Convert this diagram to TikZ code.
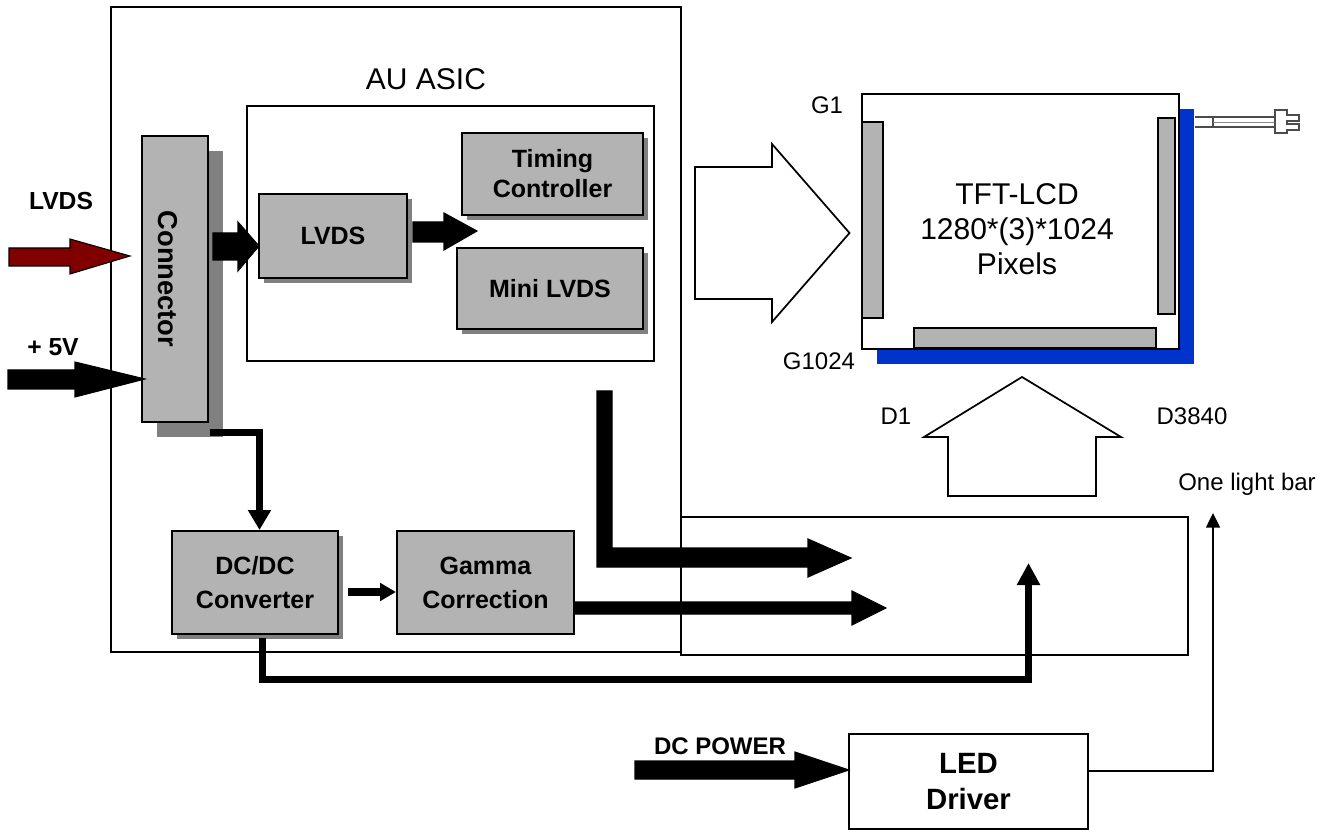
\documentclass[tikz,border=0pt]{standalone}
\usepackage{fontspec}
\setmainfont{Liberation Sans}
\usetikzlibrary{arrows.meta,shadows}
\definecolor{boxgray}{RGB}{179,179,179}
\definecolor{shadowgray}{RGB}{128,128,128}
\definecolor{lcdblue}{RGB}{0,51,204}
\definecolor{darkred}{RGB}{128,0,0}
\begin{document}
\begin{tikzpicture}[x=0.75pt,y=-0.75pt,line join=miter,
  gbox/.style={draw, line width=1.5pt, fill=boxgray, inner sep=0pt, align=center,
    font=\bfseries\fontsize{18.75}{25.5}\selectfont},
  shad/.style={drop shadow={shadow xshift=3.75pt, shadow yshift=-3.75pt, fill=shadowgray, opacity=1}},
  frame/.style={draw, line width=1pt, inner sep=0pt},
  lbl/.style={inner sep=0pt, font=\fontsize{18}{22}\selectfont},
  blbl/.style={inner sep=0pt, font=\bfseries\fontsize{18.5}{22}\selectfont},
  blockarrow/.style={draw, line width=0.8pt, fill=black},
  hollow/.style={draw, line width=1.3pt, fill=white},
  bar/.style={draw, line width=1.3pt, fill=boxgray},
  thickline/.style={line width=5.25pt},
]
\useasboundingbox (0,0) rectangle (1335,830);

% containers
\node[frame, minimum width=427.5pt, minimum height=483.75pt] (asic) at (396,329.5) {};
\node[frame, minimum width=380.25pt, minimum height=103.5pt] (lbar) at (934.5,586) {};
\node[frame, line width=1.5pt, minimum width=305.25pt, minimum height=191.25pt] (inner) at (450.5,233.5) {};
\node[lbl, font=\fontsize{22.5}{26}\selectfont] (asiclbl) at (426,79) {AU ASIC};

% gray blocks
\node[gbox, minimum width=49.5pt, minimum height=214.5pt,
  drop shadow={shadow xshift=11.25pt, shadow yshift=-11.25pt, fill=shadowgray, opacity=1}] (conn) at (175,279) {};
\node[blbl, rotate=-90, font=\bfseries\fontsize{20.5}{24}\selectfont] (connlbl) at (168,279) {Connector};
\node[gbox, shad, minimum width=111pt, minimum height=63pt] (lvdsb) at (333,236) {LVDS};
\node[gbox, shad, minimum width=135.75pt, minimum height=61.5pt, font=\bfseries\fontsize{18.75}{22.5}\selectfont] (tcon) at (552.5,174) {Timing\\Controller};
\node[gbox, shad, minimum width=139.5pt, minimum height=60.75pt] (mini) at (550,288.5) {Mini LVDS};
\node[gbox, shad, minimum width=124.5pt, minimum height=77.25pt] (dcdc) at (255,582.5) {DC/DC\\Converter};
\node[gbox, minimum width=132.75pt, minimum height=77.25pt] (gamma) at (485.5,582.5) {Gamma\\Correction};

% LED driver
\node[draw, line width=1.3pt, inner sep=0pt, minimum width=179.25pt, minimum height=71.25pt, align=center,
  font=\bfseries\fontsize{22}{27}\selectfont] (led) at (968.5,781.5) {LED\\Driver};

% TFT-LCD panel
\node[draw, line width=1.5pt, fill=white, inner sep=0pt, minimum width=237.75pt, minimum height=191.25pt,
  drop shadow={shadow xshift=11.25pt, shadow yshift=-11.25pt, fill=lcdblue, opacity=1}] (tft) at (1020.5,221.5) {};
\draw[bar] (862,122) rectangle (883,318);
\draw[bar] (1158,118) rectangle (1175,314);
\draw[bar] (914,328) rectangle (1156,348);
\node[lbl, align=center, font=\fontsize{22.5}{26.25}\selectfont] (tftlbl) at (1017,229) {TFT-LCD\\1280*(3)*1024\\Pixels};
\node[lbl] (g1) at (827,105) {G1};
\node[lbl] (g1024) at (819,361) {G1024};
\node[lbl] (d1) at (896,416) {D1};
\node[lbl] (d3840) at (1192,416) {D3840};
\node[lbl] (onebar) at (1247,484) {One light bar};

% plug
\draw[line width=0.8pt, black!70] (1195,117) -- (1275,117) (1195,127) -- (1275,127) (1213,117) -- (1213,127);
\draw[line width=0.6pt, black!45] (1213,122) -- (1275,122);
\draw[line width=0.8pt, black!70, fill=white] (1275,110) -- (1287,110) -- (1287,115) -- (1299,115) -- (1299,121) -- (1287,121)
  -- (1287,124) -- (1299,124) -- (1299,130) -- (1287,130) -- (1287,133) -- (1275,133) -- cycle;

% hollow arrows
\draw[hollow] (695,167) -- (772,167) -- (772,144) -- (849.5,233) -- (772,322) -- (772,299) -- (695,299) -- cycle;
\draw[hollow] (948,496) -- (948,437) -- (924,437) -- (1022,377) -- (1121,437) -- (1096,437) -- (1096,496) -- cycle;

% input arrows
\node[blbl] (lvdsin) at (61,201) {LVDS};
\node[blbl] (fivev) at (53,347) {+ 5V};
\draw[blockarrow, fill=darkred] (9,248) -- (70,248) -- (70,239) -- (130,256) -- (70,274) -- (70,266) -- (9,266) -- cycle;
\draw[blockarrow] (8,370) -- (75,370) -- (75,362) -- (145,379) -- (75,397) -- (75,389) -- (8,389) -- cycle;

% connector -> LVDS, LVDS -> timing/mini
\draw[blockarrow] (213,233) -- (238,233) -- (238,222) -- (259,246) -- (238,271) -- (238,260) -- (213,260) -- cycle;
\draw[blockarrow] (413,222) -- (444,222) -- (444,213) -- (477,231) -- (444,250) -- (444,242) -- (413,242) -- cycle;

% connector -> DC/DC
\draw[thickline, -{Triangle[length=15pt,width=16.5pt]}] (210,432.5) -| (dcdc.north -| 259.5,0);

% DC/DC -> Gamma
\draw[line width=6pt, -{Triangle[length=12pt,width=13pt]}] (348,592) -- (gamma.west |- 0,592);

% Gamma -> panel
\draw[blockarrow] (574,602) -- (852,602) -- (852,591) -- (886,608) -- (852,625) -- (852,614) -- (574,614) -- cycle;

% L arrow from ASIC
\draw[blockarrow] (597,391) -- (612,391) -- (612,548) -- (808,548) -- (808,539) -- (851,558) -- (808,577) -- (808,567) -- (597,567) -- cycle;

% DC/DC -> light bar
\draw[line width=5.6pt, -{Triangle[length=16.5pt,width=16.5pt]}] (262.5,638) |- (1028.5,679.5) -- (1028.5,563);

% DC power -> LED driver
\node[blbl, font=\bfseries\fontsize{18}{20}\selectfont] (dcpow) at (720,746) {DC POWER};
\draw[blockarrow] (635,761) -- (795,761) -- (795,752) -- (849,770) -- (795,788) -- (795,779) -- (635,779) -- cycle;

% LED driver -> light bar
\draw[line width=1.1pt, -{Triangle[length=11pt,width=10.5pt]}] (led.east |- 0,771) -| (1213,513);
\end{tikzpicture}
\end{document}
